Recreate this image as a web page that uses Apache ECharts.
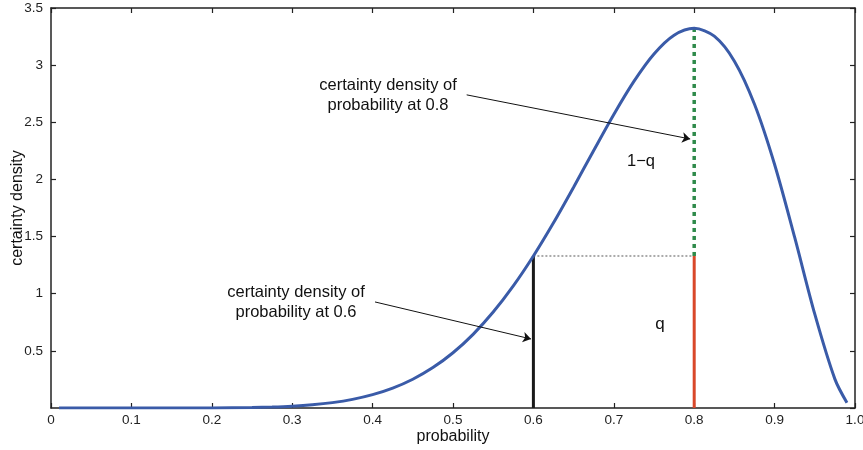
<!DOCTYPE html>
<html><head><meta charset="utf-8">
<script src="https://cdn.jsdelivr.net/npm/echarts@6/dist/echarts.min.js"></script>
<style>html,body{margin:0;padding:0;background:#fff}#c{width:863px;height:450px}</style>
</head><body><div id="c"></div>
<script>
var probX = [0.01,0.05,0.1,0.15,0.2,0.25,0.275,0.3,0.325,0.35,0.375,0.4,0.425,0.45,0.475,0.5,0.525,0.55,0.575,0.6,0.625,0.65,0.675,0.7,0.725,0.75,0.775,0.8,0.825,0.85,0.875,0.9,0.925,0.95,0.975,0.99];
var densityY = [0,0,0,0.0001,0.0008,0.0043,0.0085,0.0159,0.0281,0.0471,0.0756,0.1168,0.1742,0.2518,0.3536,0.4834,0.6446,0.8393,1.0684,1.3302,1.6207,1.9322,2.2532,2.5682,2.8574,3.0972,3.2613,3.3220,3.2532,3.0349,2.6576,2.1308,1.4923,0.8210,0.2527,0.0457];
var pLow = 0.6, pHigh = 0.8;
var dLow = 1.3302, dHigh = 3.3220;
var xTicks = [0,0.1,0.2,0.3,0.4,0.5,0.6,0.7,0.8,0.9,1.0];
var yTicks = [0.5,1,1.5,2,2.5,3,3.5];
var arrow08 = [[0.517,2.74],[0.795,2.354]];
var arrow06 = [[0.403,0.928],[0.597,0.604]];

var curve = probX.map(function(x,i){return [x,densityY[i]];});
var font = 'Liberation Sans, Arial, sans-serif';
function axisLine(){ return {show:true,onZero:false,lineStyle:{color:'#222',width:1.5}}; }
function tick(){ return {show:true,inside:true,length:5,lineStyle:{color:'#222',width:1.2}}; }
var chart = echarts.init(document.getElementById('c'));
function xl(v){ if (Math.abs(v)<1e-9) return '0'; return v.toFixed(1); }
chart.setOption({
  animation:false,
  grid:{left:51,right:8,top:8,bottom:42,outerBoundsMode:'none',containLabel:false},
  xAxis:[{type:'value',min:0,max:1,interval:0.1,axisLine:axisLine(),axisTick:tick(),
    axisLabel:{color:'#222',fontFamily:font,fontSize:13.5,margin:5,formatter:xl,showMaxLabel:true,showMinLabel:true,hideOverlap:false},
    splitLine:{show:false},name:'probability',nameLocation:'middle',nameGap:21,nameMoveOverlap:false,
    nameTextStyle:{color:'#111',fontFamily:font,fontSize:16}},
    {type:'value',position:'top',min:0,max:1,interval:0.1,axisLine:axisLine(),axisTick:tick(),axisLabel:{show:false},splitLine:{show:false}}],
  yAxis:[{type:'value',min:0,max:3.5,interval:0.5,axisLine:axisLine(),axisTick:tick(),
    axisLabel:{color:'#222',fontFamily:font,fontSize:13.5,margin:8,showMinLabel:false,showMaxLabel:true,hideOverlap:false,
      formatter:function(v){return yTicks.indexOf(v)>=0?String(v):'';}},
    splitLine:{show:false},name:'certainty density',nameLocation:'middle',nameGap:25,nameRotate:90,nameMoveOverlap:false,
    nameTextStyle:{color:'#111',fontFamily:font,fontSize:16}},
    {type:'value',position:'right',min:0,max:3.5,interval:0.5,axisLine:axisLine(),axisTick:tick(),axisLabel:{show:false},splitLine:{show:false}}],
  series:[
    {type:'line',data:[[pLow,dLow],[pHigh,dLow]],symbol:'none',lineStyle:{color:'#aaaaaa',width:2,type:[2,2]},z:1},
    {type:'line',data:[[pLow,0],[pLow,dLow]],symbol:'none',lineStyle:{color:'#1a1a1a',width:3},z:2},
    {type:'line',data:[[pHigh,0],[pHigh,dLow]],symbol:'none',lineStyle:{color:'#d9482a',width:3},z:2},
    {type:'line',data:[[pHigh,dLow],[pHigh,dHigh]],symbol:'none',lineStyle:{color:'#2e8a4a',width:3.5,type:[4,4]},z:2},
    {type:'line',data:curve,smooth:0.3,symbol:'none',lineStyle:{color:'#3a5ba8',width:3},z:3,
      markLine:{silent:true,symbol:['none','arrow'],symbolSize:[8,8],animation:false,
        lineStyle:{color:'#111',width:1,type:'solid'},label:{show:false},
        data:[[{coord:arrow08[0]},{coord:arrow08[1]}],[{coord:arrow06[0]},{coord:arrow06[1]}]]}}
  ],
  graphic:[
    {type:'text',x:388,y:95,style:{text:'certainty density of\nprobability at 0.8',font:'16.5px '+font,fill:'#111',align:'center',verticalAlign:'middle',lineHeight:20}},
    {type:'text',x:296,y:302,style:{text:'certainty density of\nprobability at 0.6',font:'16.5px '+font,fill:'#111',align:'center',verticalAlign:'middle',lineHeight:20}},
    {type:'text',x:641,y:161,style:{text:'1\u2212q',font:'16.5px '+font,fill:'#111',align:'center',verticalAlign:'middle'}},
    {type:'text',x:660,y:324,style:{text:'q',font:'17px '+font,fill:'#111',align:'center',verticalAlign:'middle'}}
  ]
});
</script></body></html>
